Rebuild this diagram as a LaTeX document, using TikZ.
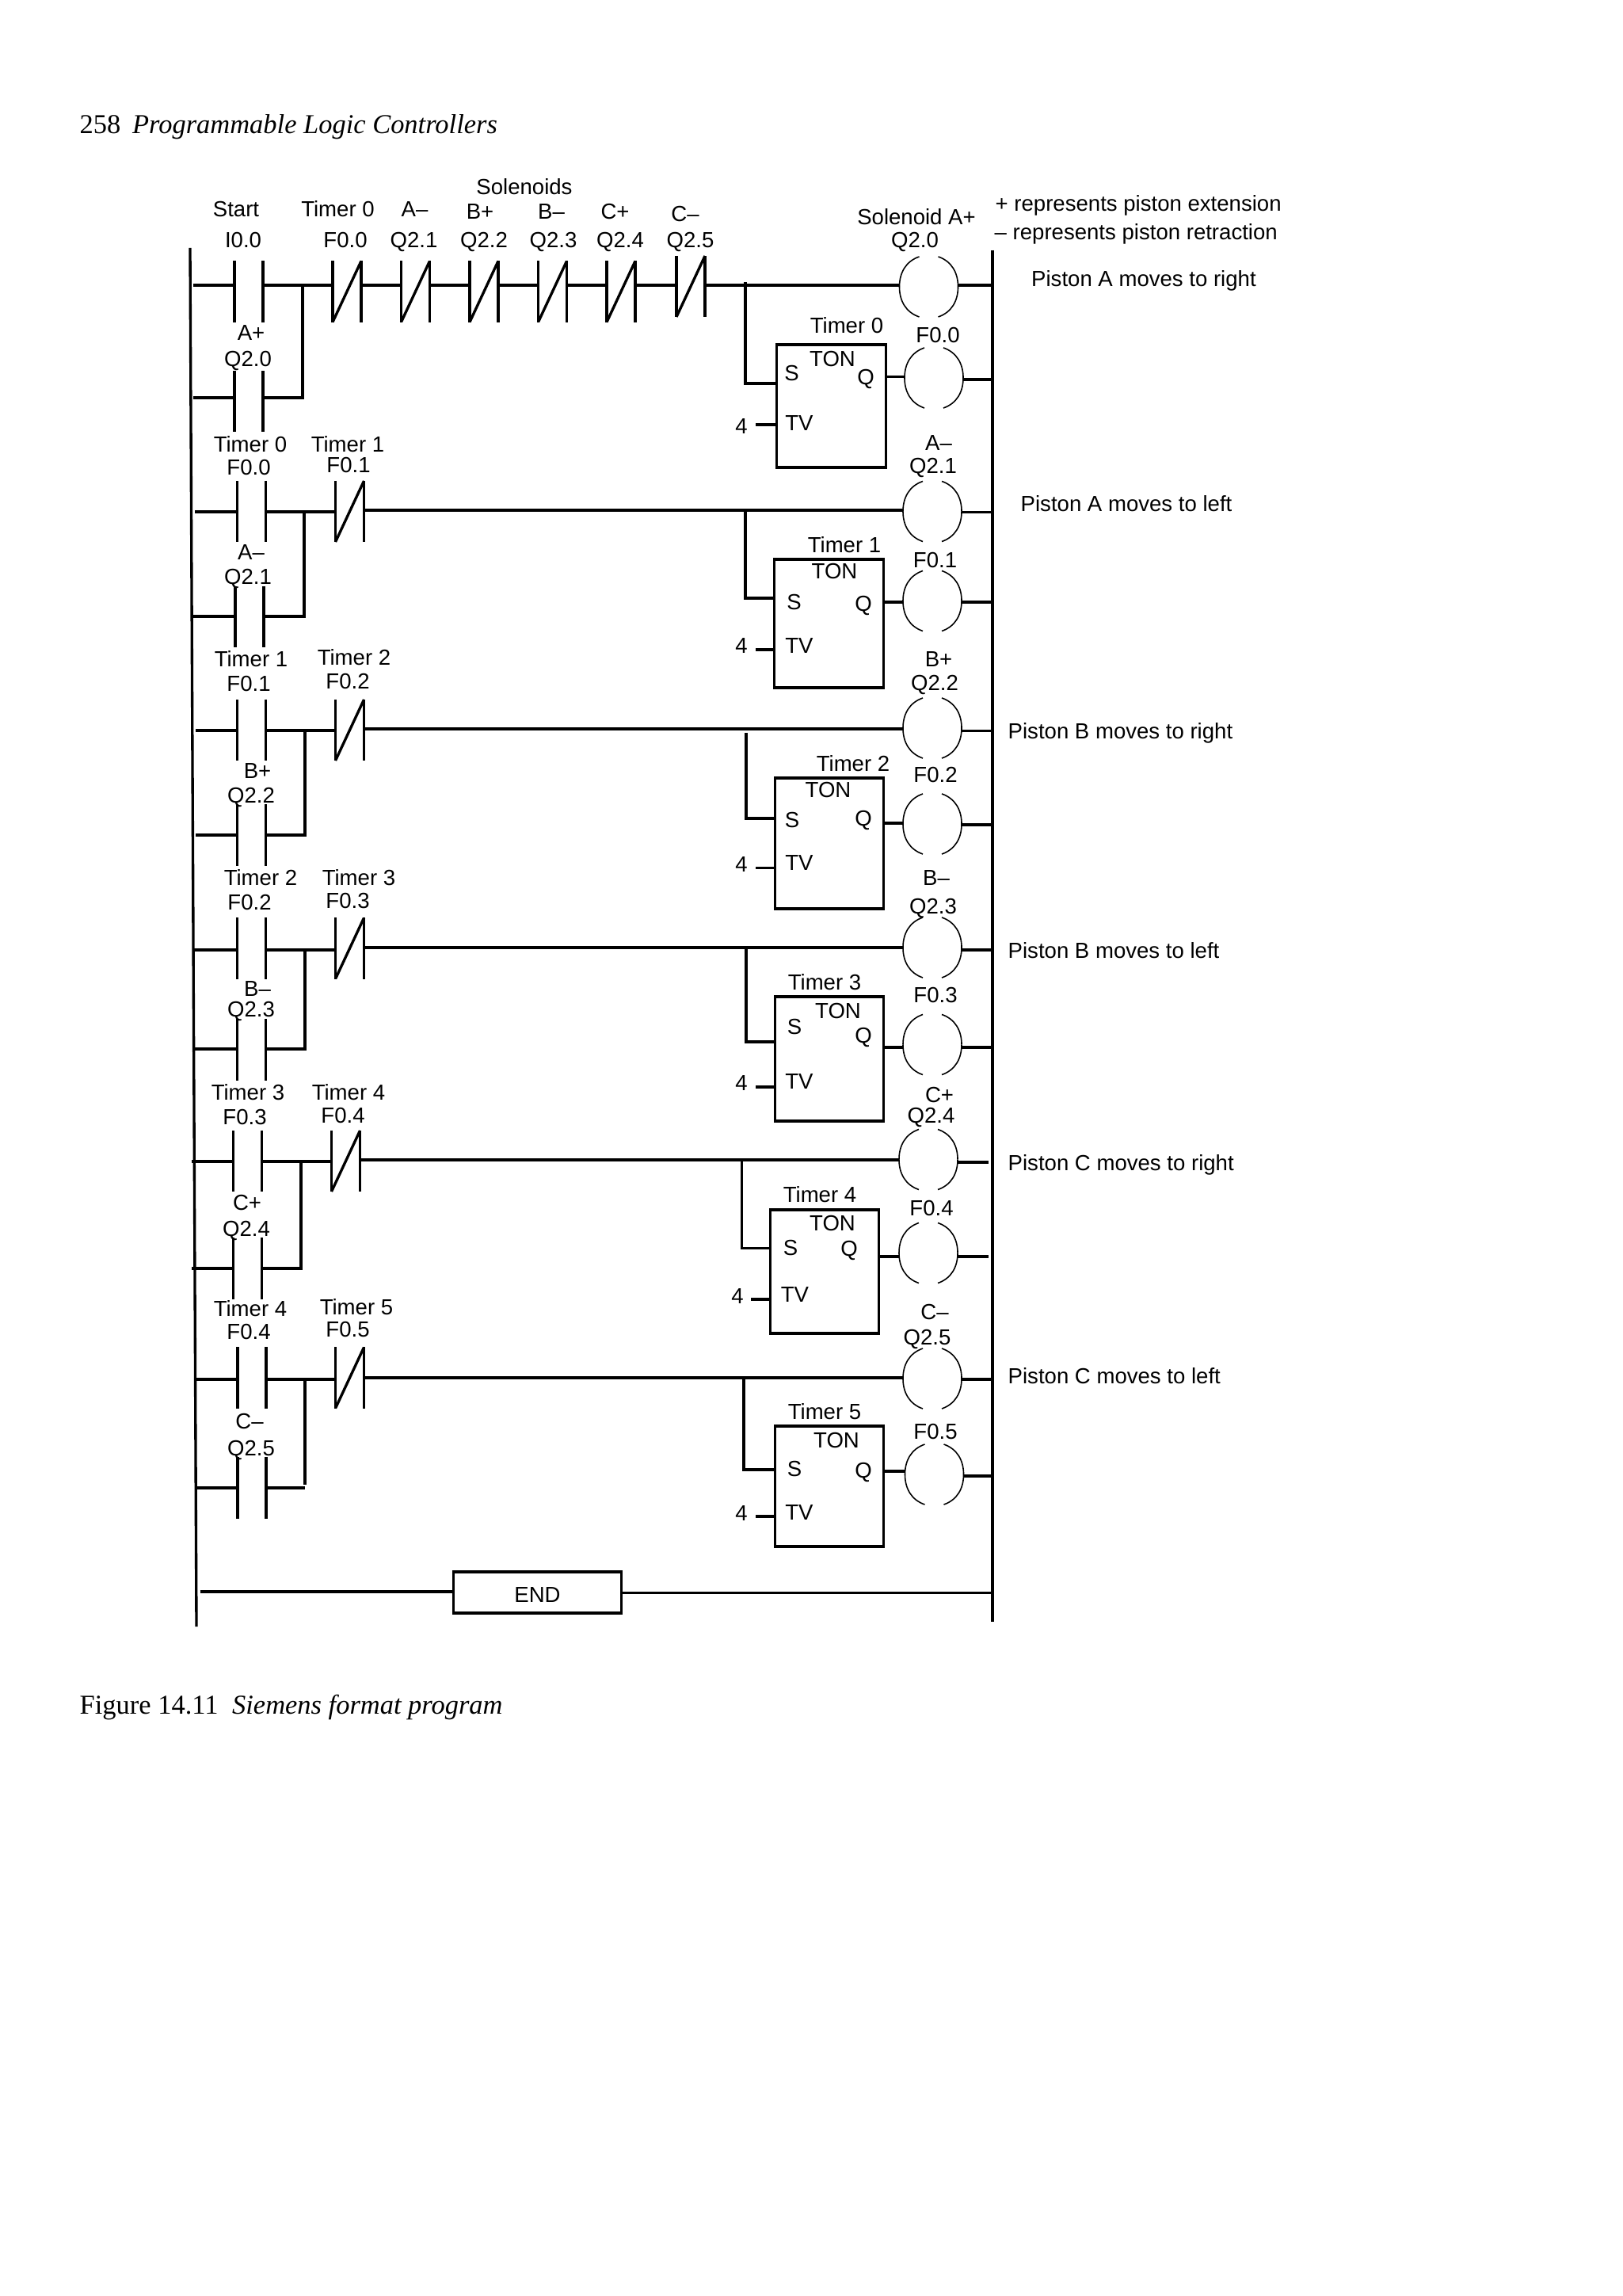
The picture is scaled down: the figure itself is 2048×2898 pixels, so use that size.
\documentclass[tikz,border=0pt]{standalone}
\usepackage{fontspec}
\setmainfont{Liberation Sans}
\newfontfamily\bookfont{Liberation Serif}
\usetikzlibrary{calc}
\tikzset{
    wire/.style = {
        line width = 0.95pt
    },
    open contact/.style = {
        shape = rectangle,
        inner sep = 0pt,
        outer sep = 0pt,
        minimum width = 0.36cm,
        minimum height = 0.77cm,
        append after command = {
            (\tikzlastnode.north west) edge [wire] (\tikzlastnode.south west)
            (\tikzlastnode.north east) edge [wire] (\tikzlastnode.south east)
        }
    },
    closed contact/.style = {
        open contact,
        append after command = {
            (\tikzlastnode.south west) edge [wire] (\tikzlastnode.north east)
        }
    },
    coil arc/.style = {
        line width = 0.45pt
    },
    coil/.style = {
        shape = rectangle,
        inner sep = 0pt,
        outer sep = 0pt,
        minimum width = 0.74cm,
        minimum height = 0.76cm,
        append after command = {
            ($(\tikzlastnode.north)+(-12,0)$) edge [coil arc, out=199, in=90] (\tikzlastnode.west)
            (\tikzlastnode.west) edge [coil arc, out=-90, in=161] ($(\tikzlastnode.south)+(-12,0)$)
            ($(\tikzlastnode.north)+(12,0)$) edge [coil arc, out=-19, in=90] (\tikzlastnode.east)
            (\tikzlastnode.east) edge [coil arc, out=-90, in=19] ($(\tikzlastnode.south)+(12,0)$)
        }
    },
    timer box/.style = {
        shape = rectangle,
        draw,
        wire,
        inner sep = 0pt,
        outer sep = 0pt,
        minimum width = 1.375cm
    },
    lab/.style = {
        inner sep = 0pt,
        font = \fontsize{7.84}{9}\selectfont,
        text height = 5.6pt,
        text depth = 0pt
    },
    note/.style = {
        lab,
        anchor = west
    },
    book/.style = {
        inner sep = 0pt,
        anchor = base west,
        font = \bookfont\fontsize{9.8}{12}\selectfont
    }
}

\begin{document}
\begin{tikzpicture}[x=0.01cm, y=0.01cm]
      \useasboundingbox (0,0) rectangle (2048,-2898);

      \node (page head) at (100,-169) [book] {258\hspace{4.2pt}\textit{Programmable Logic Controllers}};
      \node (fig caption) at (100,-2163) [book] {Figure 14.11\hspace{5pt}\textit{Siemens format program}};

      \coordinate (left top) at (240,-313);
      \coordinate (left bot) at (248,-2053);
      \coordinate (right top) at (1253,-316);
      \coordinate (right bot) at (1253,-2047);
      \draw [wire] (left top) -- (left bot);
      \draw [wire] (right top) -- (right bot);

      \node (solenoids) at (662,-236) [lab] {Solenoids};
      \node (start lab) at (298,-264) [lab] {Start};
      \node (tm0 head) at (426.5,-264) [lab] {Timer 0};
      \node (am head) at (523.5,-264) [lab] {A--};
      \node (bp head) at (606,-266.5) [lab] {B+};
      \node (bm head) at (696,-266.5) [lab] {B--};
      \node (cp head) at (776.5,-266.5) [lab] {C+};
      \node (cm head) at (865,-270) [lab] {C--};
      \node (i00 lab) at (307,-303) [lab] {I0.0};
      \node (f00 head) at (436,-303) [lab] {F0.0};
      \node (q21 head) at (522.5,-303) [lab] {Q2.1};
      \node (q22 head) at (611,-303) [lab] {Q2.2};
      \node (q23 head) at (698.5,-303) [lab] {Q2.3};
      \node (q24 head) at (783,-303) [lab] {Q2.4};
      \node (q25 head) at (871.5,-303) [lab] {Q2.5};
      \node (sol lab) at (1157,-274) [lab] {Solenoid A+};
      \node (q20 head) at (1155,-303) [lab] {Q2.0};
      \node (plus note) at (1256,-257) [note] {+ represents piston extension};
      \node (minus note) at (1255,-293) [note] {-- represents piston retraction};

      % rung 1
      \coordinate (r1) at (244,-360);
      \coordinate (r1 low) at (244,-502);
      \coordinate (b1) at (382,-360);
      \coordinate (j1) at (941,-356);
      \node (i00) at (314,-368) [open contact] {};
      \node (q20 hold) at (314,-506.5) [open contact] {};
      \node (f00 nc) at (438,-368) [closed contact] {};
      \node (q21 nc) at (524.5,-368) [closed contact] {};
      \node (q22 nc) at (611,-368) [closed contact] {};
      \node (q23 nc) at (697.5,-368) [closed contact] {};
      \node (q24 nc) at (784,-368) [closed contact] {};
      \node (q25 nc) at (872,-361.5) [closed contact] {};
      \node (q20 coil) at (1172.5,-362) [coil] {};
      \node (f00 coil) at (1179,-477) [coil] {};
      \node (tm0) at (1049.5,-512.5) [timer box, minimum height=1.55cm] {};
      \coordinate (tv0) at (954,-536);
      \draw [wire] (r1) -- (i00.west |- r1);
      \draw [wire] (i00.east |- r1) -- (f00 nc.west |- r1);
      \draw [wire] (f00 nc.east |- r1) -- (q21 nc.west |- r1);
      \draw [wire] (q21 nc.east |- r1) -- (q22 nc.west |- r1);
      \draw [wire] (q22 nc.east |- r1) -- (q23 nc.west |- r1);
      \draw [wire] (q23 nc.east |- r1) -- (q24 nc.west |- r1);
      \draw [wire] (q24 nc.east |- r1) -- (q25 nc.west |- r1);
      \draw [wire] (q25 nc.east |- r1) -- (q20 coil.west |- r1);
      \draw [wire] (q20 coil.east |- r1) -- (right top |- r1);
      \draw [wire] (r1 low) -- (q20 hold.west |- r1 low);
      \draw [wire] (q20 hold.east |- r1 low) -| (b1);
      \draw [wire] (j1) |- (tm0.west |- 0,-484);
      \draw [wire] (tv0) -- (tm0.west |- tv0);
      \draw [wire] (tm0.east |- 0,-475.5) -- (f00 coil.west |- 0,-475.5);
      \draw [wire] (f00 coil.east |- 0,-479) -- (right top |- 0,-479);
      \node (ap lab) at (317,-420) [lab] {A+};
      \node (q20 lab) at (313,-452.5) [lab] {Q2.0};
      \node (tm0 lab) at (1069,-411) [lab] {Timer 0};
      \node (f00 lab) at (1184,-423) [lab] {F0.0};
      \node (ton0) at (1051,-453) [lab] {TON};
      \node (s0) at (999.5,-470.5) [lab] {S};
      \node (q0) at (1093,-475.5) [lab] {Q};
      \node (tvl0) at (1009,-534) [lab] {TV};
      \node (four0) at (936,-537.5) [lab] {4};
      \node (pa right) at (1301.5,-352) [note] {Piston A moves to right};

      % rung 2
      \coordinate (r2) at (246,-646);
      \coordinate (r2 top) at (0,-644);
      \coordinate (r2 low) at (244,-778);
      \coordinate (b2) at (384,-646);
      \coordinate (j2) at (941,-644);
      \node (f00 no) at (317.5,-645.5) [open contact] {};
      \node (q21 hold) at (315,-778.5) [open contact] {};
      \node (f01 nc) at (441.5,-645.5) [closed contact] {};
      \node (q21 coil) at (1177,-645.5) [coil] {};
      \node (f01 coil) at (1177,-758.5) [coil] {};
      \node (tm1) at (1046.5,-787) [timer box, minimum height=1.62cm] {};
      \coordinate (tv1) at (954,-820);
      \draw [wire] (r2) -- (f00 no.west |- r2);
      \draw [wire] (f00 no.east |- r2) -- (f01 nc.west |- r2);
      \draw [wire] (f01 nc.east |- r2 top) -- (q21 coil.west |- r2 top);
      \draw [wire] (q21 coil.east |- 0,-646.5) -- (right top |- 0,-646.5);
      \draw [wire] (r2 low) -- (q21 hold.west |- r2 low);
      \draw [wire] (q21 hold.east |- r2 low) -| (b2);
      \draw [wire] (j2) |- (tm1.west |- 0,-755);
      \draw [wire] (tv1) -- (tm1.west |- tv1);
      \draw [wire] (tm1.east |- 0,-760) -- (f01 coil.west |- 0,-760);
      \draw [wire] (f01 coil.east |- 0,-760) -- (right top |- 0,-760);
      \node (tm0 lab b) at (316,-561) [lab] {Timer 0};
      \node (f00 lab b) at (314,-590) [lab] {F0.0};
      \node (tm1 lab b) at (439,-561) [lab] {Timer 1};
      \node (f01 lab b) at (440,-587) [lab] {F0.1};
      \node (am lab) at (317,-697) [lab] {A--};
      \node (q21 lab) at (313,-728) [lab] {Q2.1};
      \node (am coil lab) at (1185,-559) [lab] {A--};
      \node (q21 coil lab) at (1178,-588) [lab] {Q2.1};
      \node (tm1 lab) at (1066,-688) [lab] {Timer 1};
      \node (f01 lab) at (1180.5,-707) [lab] {F0.1};
      \node (ton1) at (1053.5,-721) [lab] {TON};
      \node (s1) at (1002.5,-759.5) [lab] {S};
      \node (q1) at (1090,-762) [lab] {Q};
      \node (tvl1) at (1009,-815) [lab] {TV};
      \node (four1) at (936,-815) [lab] {4};
      \node (pa left) at (1288,-636) [note] {Piston A moves to left};

      % rung 3
      \coordinate (r3) at (247,-922);
      \coordinate (r3 top) at (0,-920);
      \coordinate (r3 low) at (247,-1054);
      \coordinate (b3) at (385,-922);
      \coordinate (j3) at (942,-925);
      \node (f01 no) at (317.5,-921.5) [open contact] {};
      \node (q22 hold) at (317.5,-1054) [open contact] {};
      \node (f02 nc) at (441.5,-921.5) [closed contact] {};
      \node (q22 coil) at (1177,-919) [coil] {};
      \node (f02 coil) at (1177,-1040) [coil] {};
      \node (tm2) at (1047,-1064.5) [timer box, minimum height=1.65cm] {};
      \coordinate (tv2) at (954,-1095.5);
      \draw [wire] (r3) -- (f01 no.west |- r3);
      \draw [wire] (f01 no.east |- r3) -- (f02 nc.west |- r3);
      \draw [wire] (f02 nc.east |- r3 top) -- (q22 coil.west |- r3 top);
      \draw [wire] (q22 coil.east |- 0,-922.5) -- (right top |- 0,-922.5);
      \draw [wire] (r3 low) -- (q22 hold.west |- r3 low);
      \draw [wire] (q22 hold.east |- r3 low) -| (b3);
      \draw [wire] (j3) |- (tm2.west |- 0,-1033);
      \draw [wire] (tv2) -- (tm2.west |- tv2);
      \draw [wire] (tm2.east |- 0,-1039) -- (f02 coil.west |- 0,-1039);
      \draw [wire] (f02 coil.east |- 0,-1041) -- (right top |- 0,-1041);
      \node (tm1 lab c) at (317,-832) [lab] {Timer 1};
      \node (f01 lab c) at (314,-863) [lab] {F0.1};
      \node (tm2 lab c) at (447,-830) [lab] {Timer 2};
      \node (f02 lab c) at (439,-860) [lab] {F0.2};
      \node (bp lab) at (325,-973) [lab] {B+};
      \node (q22 lab) at (317,-1004) [lab] {Q2.2};
      \node (bp coil lab) at (1185,-832) [lab] {B+};
      \node (q22 coil lab) at (1180,-862) [lab] {Q2.2};
      \node (tm2 lab) at (1077,-964) [lab] {Timer 2};
      \node (f02 lab) at (1181,-978) [lab] {F0.2};
      \node (ton2) at (1045.5,-997) [lab] {TON};
      \node (s2) at (1000,-1035) [lab] {S};
      \node (q2) at (1090,-1033) [lab] {Q};
      \node (tvl2) at (1009,-1089) [lab] {TV};
      \node (four2) at (936,-1091) [lab] {4};
      \node (pb right) at (1272,-923) [note] {Piston B moves to right};

      % rung 4
      \coordinate (r4) at (245,-1199);
      \coordinate (r4 top) at (0,-1196);
      \coordinate (r4 low) at (245,-1324);
      \coordinate (b4) at (385,-1199);
      \coordinate (j4) at (942,-1196);
      \node (f02 no) at (317.5,-1197) [open contact] {};
      \node (q23 hold) at (317.5,-1325) [open contact] {};
      \node (f03 nc) at (441.5,-1197) [closed contact] {};
      \node (q23 coil) at (1177,-1196) [coil] {};
      \node (f03 coil) at (1177,-1318.5) [coil] {};
      \node (tm3) at (1047,-1336.5) [timer box, minimum height=1.57cm] {};
      \coordinate (tv3) at (954,-1372);
      \draw [wire] (r4) -- (f02 no.west |- r4);
      \draw [wire] (f02 no.east |- r4) -- (f03 nc.west |- r4);
      \draw [wire] (f03 nc.east |- r4 top) -- (q23 coil.west |- r4 top);
      \draw [wire] (q23 coil.east |- 0,-1199) -- (right top |- 0,-1199);
      \draw [wire] (r4 low) -- (q23 hold.west |- r4 low);
      \draw [wire] (q23 hold.east |- r4 low) -| (b4);
      \draw [wire] (j4) |- (tm3.west |- 0,-1315);
      \draw [wire] (tv3) -- (tm3.west |- tv3);
      \draw [wire] (tm3.east |- 0,-1322) -- (f03 coil.west |- 0,-1322);
      \draw [wire] (f03 coil.east |- 0,-1322) -- (right top |- 0,-1322);
      \node (tm2 lab d) at (329,-1108) [lab] {Timer 2};
      \node (f02 lab d) at (315,-1139) [lab] {F0.2};
      \node (tm3 lab d) at (453,-1108) [lab] {Timer 3};
      \node (f03 lab d) at (439,-1136.5) [lab] {F0.3};
      \node (bm lab) at (325,-1248) [lab] {B--};
      \node (q23 lab) at (317,-1274) [lab] {Q2.3};
      \node (bm coil lab) at (1182,-1108) [lab] {B--};
      \node (q23 coil lab) at (1178,-1143.5) [lab] {Q2.3};
      \node (tm3 lab) at (1041,-1240) [lab] {Timer 3};
      \node (f03 lab) at (1181,-1256) [lab] {F0.3};
      \node (ton3) at (1058,-1276) [lab] {TON};
      \node (s3) at (1003,-1296) [lab] {S};
      \node (q3) at (1090,-1306.5) [lab] {Q};
      \node (tvl3) at (1009,-1364.5) [lab] {TV};
      \node (four3) at (936,-1367) [lab] {4};
      \node (pb left) at (1272,-1199.5) [note] {Piston B moves to left};

      % rung 5
      \coordinate (r5) at (242,-1466);
      \coordinate (r5 top) at (0,-1464);
      \coordinate (r5 low) at (242,-1601);
      \coordinate (b5) at (380,-1466);
      \coordinate (j5) at (936.5,-1464);
      \coordinate (e5 a) at (1248,-1467);
      \coordinate (e5 b) at (1248,-1586);
      \node (f03 no) at (312.5,-1465.5) [open contact] {};
      \node (q24 hold) at (312.5,-1601) [open contact] {};
      \node (f04 nc) at (436.5,-1465.5) [closed contact] {};
      \node (q24 coil) at (1172,-1463.5) [coil] {};
      \node (f04 coil) at (1172,-1581.5) [coil] {};
      \node (tm4) at (1041,-1605) [timer box, minimum height=1.56cm] {};
      \coordinate (tv4) at (948,-1640);
      \draw [wire] (r5) -- (f03 no.west |- r5);
      \draw [wire] (f03 no.east |- r5) -- (f04 nc.west |- r5);
      \draw [wire] (f04 nc.east |- r5 top) -- (q24 coil.west |- r5 top);
      \draw [wire] (q24 coil.east |- e5 a) -- (e5 a);
      \draw [wire] (r5 low) -- (q24 hold.west |- r5 low);
      \draw [wire] (q24 hold.east |- r5 low) -| (b5);
      \draw [wire] (j5) |- (tm4.west |- 0,-1575.5);
      \draw [wire] (tv4) -- (tm4.west |- tv4);
      \draw [wire] (tm4.east |- e5 b) -- (f04 coil.west |- e5 b);
      \draw [wire] (f04 coil.east |- e5 b) -- (e5 b);
      \node (tm3 lab e) at (313,-1379) [lab] {Timer 3};
      \node (f03 lab e) at (309,-1410) [lab] {F0.3};
      \node (tm4 lab e) at (440,-1379) [lab] {Timer 4};
      \node (f04 lab e) at (433,-1407.5) [lab] {F0.4};
      \node (cp lab) at (312,-1518) [lab] {C+};
      \node (q24 lab) at (311,-1550.5) [lab] {Q2.4};
      \node (cp coil lab) at (1186,-1381.5) [lab] {C+};
      \node (q24 coil lab) at (1175.5,-1408) [lab] {Q2.4};
      \node (tm4 lab) at (1035,-1508) [lab] {Timer 4};
      \node (f04 lab) at (1176,-1525) [lab] {F0.4};
      \node (ton4) at (1051,-1544) [lab] {TON};
      \node (s4) at (998,-1575) [lab] {S};
      \node (q4) at (1072,-1576) [lab] {Q};
      \node (tvl4) at (1003.5,-1633.5) [lab] {TV};
      \node (four4) at (931,-1636) [lab] {4};
      \node (pc right) at (1272,-1468) [note] {Piston C moves to right};

      % rung 6
      \coordinate (r6) at (248,-1741);
      \coordinate (r6 top) at (0,-1739);
      \coordinate (r6 low) at (248,-1878);
      \coordinate (b6) at (385,-1741);
      \coordinate (b6 end) at (385,-1874);
      \coordinate (j6) at (939,-1739);
      \node (f04 no) at (318,-1739) [open contact] {};
      \node (q25 hold) at (318,-1878) [open contact] {};
      \node (f05 nc) at (441.5,-1739) [closed contact] {};
      \node (q25 coil) at (1177,-1740) [coil] {};
      \node (f05 coil) at (1179.5,-1861) [coil] {};
      \node (tm5) at (1047,-1876) [timer box, minimum height=1.52cm] {};
      \coordinate (tv5) at (954,-1914);
      \draw [wire] (r6) -- (f04 no.west |- r6);
      \draw [wire] (f04 no.east |- r6) -- (f05 nc.west |- r6);
      \draw [wire] (f05 nc.east |- r6 top) -- (q25 coil.west |- r6 top);
      \draw [wire] (q25 coil.east |- r6) -- (right top |- r6);
      \draw [wire] (b6) -- (b6 end);
      \draw [wire] (r6 low) -- (q25 hold.west |- r6 low);
      \draw [wire] (q25 hold.east |- r6 low) -- (b6 |- r6 low);
      \draw [wire] (j6) |- (tm5.west |- 0,-1855);
      \draw [wire] (tv5) -- (tm5.west |- tv5);
      \draw [wire] (tm5.east |- 0,-1857) -- (f05 coil.west |- 0,-1857);
      \draw [wire] (f05 coil.east |- 0,-1863) -- (right top |- 0,-1863);
      \node (tm4 lab f) at (316,-1652) [lab] {Timer 4};
      \node (f04 lab f) at (314,-1681) [lab] {F0.4};
      \node (tm5 lab f) at (450,-1650) [lab] {Timer 5};
      \node (f05 lab f) at (439,-1678) [lab] {F0.5};
      \node (cm lab) at (315,-1794) [lab] {C--};
      \node (q25 lab) at (317,-1827.5) [lab] {Q2.5};
      \node (cm coil lab) at (1180,-1655.5) [lab] {C--};
      \node (q25 coil lab) at (1170.5,-1688) [lab] {Q2.5};
      \node (tm5 lab) at (1041,-1782) [lab] {Timer 5};
      \node (f05 lab) at (1181,-1807) [lab] {F0.5};
      \node (ton5) at (1056,-1817.5) [lab] {TON};
      \node (s5) at (1003,-1854) [lab] {S};
      \node (q5) at (1090,-1856) [lab] {Q};
      \node (tvl5) at (1009,-1909) [lab] {TV};
      \node (four5) at (936,-1910) [lab] {4};
      \node (pc left) at (1272,-1737) [note] {Piston C moves to left};

      % end rung
      \coordinate (r7) at (252.5,-2009);
      \node (end box) at (678.5,-2010) [timer box, minimum width=2.12cm, minimum height=0.52cm, lab, text height=7.3pt] {END};
      \draw [wire] (r7) -- (end box.west |- r7);
      \draw [wire] (end box.east |- 0,-2010.5) -- (right top |- 0,-2010.5);
\end{tikzpicture}
\end{document}
